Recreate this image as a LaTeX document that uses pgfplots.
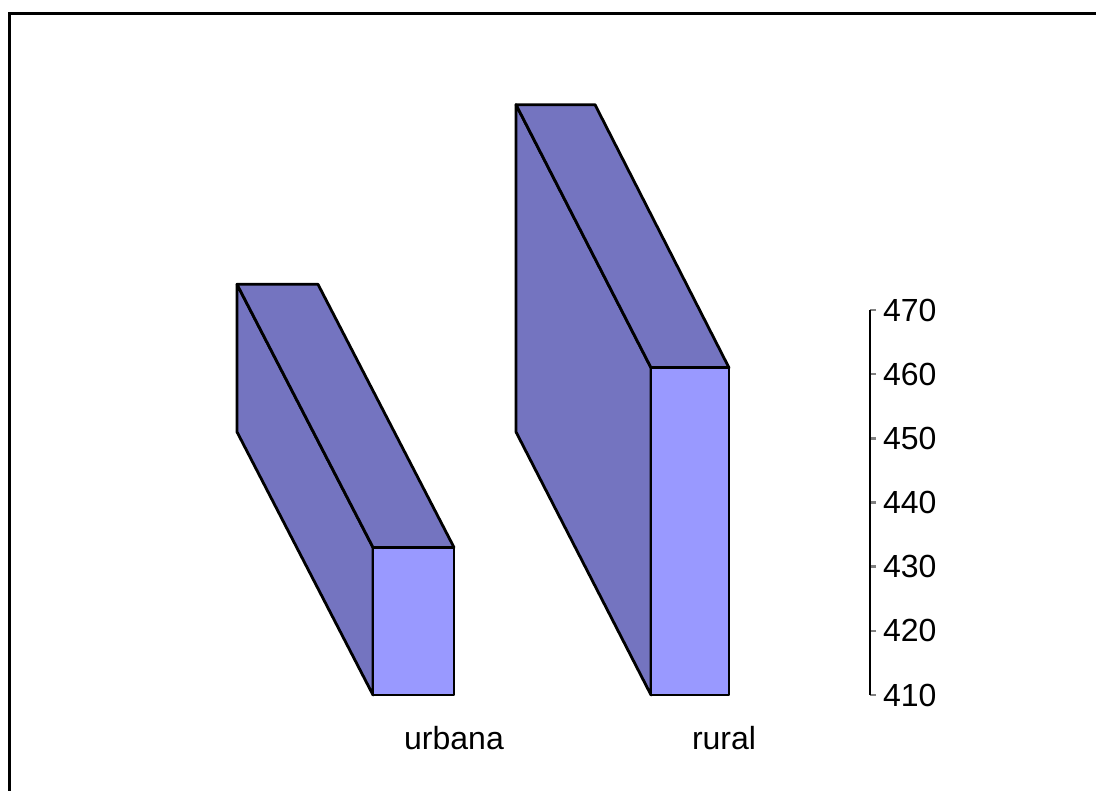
\documentclass[border=0pt]{standalone}
\usepackage{fontspec}
\setmainfont{Liberation Sans}
\usepackage{pgfplots}
\pgfplotsset{compat=1.18}

\definecolor{frontface}{HTML}{9999FF}
\definecolor{sideface}{HTML}{7474C0}

\begin{document}
\fontsize{16}{19}\selectfont
\begin{tikzpicture}[x=0.5pt,y=0.5pt]
  \clip (0,0) rectangle (1096,791);
  \path[use as bounding box] (0,0) rectangle (1096,791);
  % outer frame, cut by the page at right and bottom
  \draw[line width=1.5pt] (9,-20) -- (9,777) -- (1130,777);

  \begin{axis}[
      at={(0pt,48pt)}, anchor=south west,
      scale only axis,
      width=435pt, height=192.5pt,
      xmin=0, xmax=870,
      ymin=410, ymax=470,
      clip=false,
      axis y line*=right,
      axis x line*=bottom,
      x axis line style={draw=none},
      xtick style={draw=none},
      xtick={454,724},
      xticklabels={urbana,rural},
      xticklabel style={yshift=-7pt},
      ytick={410,420,...,470},
      y axis line style={line width=1.3pt},
      ytick style={line width=1.3pt},
      tick align=outside,
      major tick length=3pt,
      yticklabel style={xshift=-2pt},
      /pgf/number format/assume math mode=true,
      ticklabel style={font=\fontsize{16}{19}\selectfont},
      every axis plot/.append style={draw=black, line width=1.4pt, line join=round},
    ]
    % urbana = 433
    \addplot[fill=sideface]
      coordinates {(373,410) (237,451) (237,474) (373,433)} -- cycle;
    \addplot[fill=sideface]
      coordinates {(373,433) (237,474) (318,474) (454,433)} -- cycle;
    \addplot[fill=frontface]
      coordinates {(373,410) (373,433) (454,433) (454,410)} -- cycle;
    % rural = 461
    \addplot[fill=sideface]
      coordinates {(651,410) (516,451) (516,502) (651,461)} -- cycle;
    \addplot[fill=sideface]
      coordinates {(651,461) (516,502) (595,502) (729,461)} -- cycle;
    \addplot[fill=frontface]
      coordinates {(651,410) (651,461) (729,461) (729,410)} -- cycle;
  \end{axis}
\end{tikzpicture}
\end{document}
